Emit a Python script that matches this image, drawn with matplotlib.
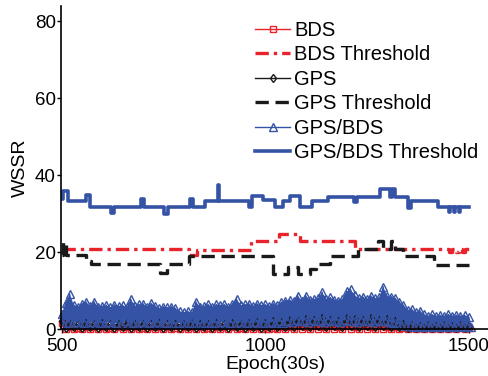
import matplotlib.pyplot as plt
import numpy as np

plt.rcParams['font.family'] = ['Liberation Sans', 'DejaVu Sans']

# GPS/BDS WSSR: upper points at 500,510,...,1500 and lower points at 505,...,1505
gb_hi = [3.8, 6.8, 9.1, 6.3, 5.8, 6.6, 7.1, 6.0, 7.1, 5.8,
         6.0, 6.2, 5.6, 6.3, 6.0, 6.2, 5.7, 7.8, 6.0, 6.4,
         6.6, 5.8, 6.7, 6.0, 5.4, 5.8, 5.6, 5.8, 5.4, 4.6,
         4.4, 4.6, 4.3, 7.1, 5.8, 6.0, 6.4, 5.8, 6.4, 6.2,
         6.4, 5.8, 6.6, 7.8, 6.2, 6.4, 6.6, 6.0, 6.6, 6.2,
         6.4, 6.0, 6.6, 6.2, 7.0, 7.4, 7.6, 7.2, 8.7, 7.4,
         8.7, 7.6, 7.8, 8.0, 9.6, 7.8, 8.2, 7.6, 7.4, 7.8,
         9.8, 10.3, 8.8, 8.0, 8.4, 7.8, 8.6, 8.0, 8.2, 11.0,
         8.6, 8.4, 8.0, 7.0, 6.2, 5.0, 5.2, 4.4, 4.8, 3.8,
         3.4, 3.8, 3.4, 3.6, 3.4, 3.8, 3.4, 3.6, 3.4, 3.6,
         3.2]
gb_lo = [1.0, 1.6, 1.4, 1.8, 1.2, 1.6, 1.4, 1.8, 1.2, 1.6,
         1.4, 1.8, 1.2, 1.6, 1.4, 2.0, 1.2, 1.6, 1.4, 1.8,
         1.2, 1.6, 1.4, 1.8, 1.2, 1.6, 1.4, 1.2, 1.6, 1.4,
         1.2, 1.6, 1.4, 1.0, 1.4, 1.6, 1.2, 1.6, 1.4, 1.8,
         1.2, 1.6, 1.4, 1.8, 1.2, 1.6, 1.4, 1.8, 1.2, 1.6,
         1.4, 1.8, 1.6, 2.0, 1.6, 2.2, 1.8, 2.4, 2.0, 2.2,
         1.8, 2.4, 2.0, 2.2, 1.8, 2.4, 2.0, 2.2, 1.8, 2.4,
         2.0, 2.2, 1.8, 2.4, 2.0, 2.2, 1.8, 2.4, 2.0, 2.2,
         1.8, 1.6, 1.2, 1.0, 0.8, 1.0, 0.6, 0.8, 0.6, 0.8,
         0.6, 0.8, 0.6, 0.8, 0.6, 0.8, 0.6, 0.8, 0.6, 0.8,
         0.6]

# GPS WSSR: upper points at 500,520,...,1500, lower at 510,...,1490
gps_hi = [2.0, 1.4, 1.2, 1.6, 1.3, 1.5, 1.2, 1.4, 1.6, 1.3,
          1.4, 1.2, 1.5, 1.3, 1.2, 1.4, 1.6, 1.3, 1.4, 1.5,
          1.3, 1.6, 1.4, 1.5, 1.7, 1.6, 2.0, 1.8, 2.4, 2.2,
          2.6, 2.3, 2.8, 2.4, 2.2, 2.8, 2.6, 2.3, 2.9, 2.4,
          2.6, 2.0, 1.4, 1.0, 0.9, 1.1, 0.8, 1.0, 0.9, 1.0,
          0.8]
gps_lo = [0.3, 0.5, 0.2, 0.4, 0.3, 0.5, 0.2, 0.4, 0.3, 0.5,
          0.2, 0.4, 0.3, 0.5, 0.2, 0.4, 0.3, 0.5, 0.2, 0.4,
          0.3, 0.5, 0.2, 0.4, 0.3, 0.5, 0.4, 0.6, 0.5, 0.7,
          0.6, 0.8, 0.5, 0.7, 0.6, 0.8, 0.5, 0.7, 0.6, 0.8,
          0.5, 0.4, 0.3, 0.2, 0.3, 0.2, 0.3, 0.2, 0.3, 0.2]

# BDS WSSR
bds_hi = [1.6, 0.5, 0.3, 0.6, 0.4, 0.5, 0.3, 0.6, 0.4, 0.5,
          0.3, 0.6, 0.4, 0.5, 0.3, 0.6, 0.4, 0.5, 0.3, 0.6,
          0.4, 0.5, 0.3, 0.6, 0.4, 0.5, 0.3, 0.6, 0.4, 0.8,
          0.6, 0.9, 0.5, 0.8, 0.6, 0.9, 0.5, 0.8, 0.6, 0.9,
          0.5, 0.4, 0.3, 0.4, 0.3, 0.4, 0.3, 0.4, 0.3, 0.4,
          0.3]
bds_lo = [0.0, 0.1, 0.0, 0.1, 0.0, 0.1, 0.0, 0.1, 0.0, 0.1,
          0.0, 0.1, 0.0, 0.1, 0.0, 0.0, 0.0, 0.0, 0.0, 0.0,
          0.0, 0.1, 0.0, 0.1, 0.0, 0.0, 0.0, 0.0, 0.0, 0.0,
          0.0, 0.0, 0.0, 0.0, 0.0, 0.0, 0.0, 0.1, 0.0, 0.0,
          0.0, 0.1, 0.0, 0.1, 0.0, 0.1, 0.0, 0.1, 0.0, 0.1]

# thresholds (step changes)
bds_thr_epochs = [500, 812, 833, 965, 1035, 1085, 1220, 1452, 1460, 1468, 1476, 1484, 1490, 1502]
bds_thr_values = [20.8, 19.2, 20.5, 22.9, 24.7, 22.9, 20.8, 20.0, 20.8, 20.0, 20.8, 20.0, 20.8, 20.8]

gps_thr_epochs = [500, 503, 510, 560, 572, 742, 760, 814, 1020, 1056, 1080, 1110, 1125, 1160,
                  1228, 1277, 1290, 1310, 1320, 1340, 1415, 1502]
gps_thr_values = [19.3, 22.5, 19.3, 17.8, 16.9, 14.5, 16.9, 19.0, 14.3, 16.1, 14.3, 15.5, 16.9, 19.0,
                  20.8, 23.0, 20.8, 23.0, 20.8, 19.0, 16.7, 16.7]

gb_thr_epochs = [500, 503, 515, 560, 570, 622, 630, 695, 702, 752, 762, 815, 822, 853, 884,
                 888, 960, 968, 995, 1024, 1044, 1061, 1086, 1115, 1154, 1218, 1225, 1282,
                 1306, 1312, 1318, 1350, 1352, 1358, 1424, 1452, 1455, 1464, 1467, 1476, 1479, 1502]
gb_thr_values = [33.8, 36.0, 33.3, 34.8, 31.7, 30.2, 31.7, 33.8, 31.7, 29.8, 31.7, 33.8, 31.7, 33.3, 37.5,
                 33.3, 31.7, 34.6, 33.5, 31.7, 33.3, 34.6, 31.7, 33.3, 34.4, 32.9, 34.4, 36.3,
                 34.4, 36.3, 34.4, 33.3, 31.5, 33.3, 31.7, 30.3, 31.7, 30.3, 31.7, 30.3, 31.7, 31.7]

red = '#e8232b'
blue = '#3553a5'
black = '#1a1a1a'


def band(ax, hi, lo, step, color, marker, ms, label):
    x_hi = 500 + step * np.arange(len(hi))
    x_lo = 500 + step / 2 + step * np.arange(len(lo))
    # solid body of the overlapping traces
    ax.fill(np.r_[x_hi, x_lo[::-1]], np.r_[hi, lo[::-1]], color=color, lw=0, clip_on=False)
    x = np.empty(len(hi) + len(lo))
    y = np.empty(len(hi) + len(lo))
    x[0::2], y[0::2] = x_hi, hi
    x[1::2], y[1::2] = x_lo, lo
    ax.plot(x, y, '-', marker=marker, color=color, lw=1.0, ms=ms, mfc='none', mew=1.0,
            clip_on=False, label=label)


fig = plt.figure(figsize=(4.89, 3.76), dpi=100)
ax = fig.add_axes([61.5 / 489, 47 / 376, 1 - 61.5 / 489, 323 / 376])

band(ax, bds_hi, bds_lo, 20, red, 's', 4.5, 'BDS')
ax.step(bds_thr_epochs, bds_thr_values, where='post', color=red, lw=2.4,
        ls=(0, (4, 1.5, 1, 1.5)), label='BDS Threshold')

band(ax, gps_hi, gps_lo, 20, black, 'd', 4.5, 'GPS')
ax.step(gps_thr_epochs, gps_thr_values, where='post', color=black, lw=2.4,
        ls=(0, (4, 2)), label='GPS Threshold')

band(ax, gb_hi, gb_lo, 10, blue, '^', 5.5, 'GPS/BDS')
ax.step(gb_thr_epochs, gb_thr_values, where='post', color=blue, lw=2.6, label='GPS/BDS Threshold')

ax.set_xlim(500, 1550)
ax.set_ylim(0, 84)
ax.set_xticks([500, 1000, 1500])
ax.set_yticks([0, 20, 40, 60, 80])
ax.tick_params(labelsize=13.5, length=3, width=1, pad=1)
ax.tick_params(axis='x', pad=3.5)
ax.spines['top'].set_visible(False)
ax.spines['right'].set_visible(False)
ax.spines['left'].set_linewidth(1.2)
ax.spines['bottom'].set_linewidth(1.2)
ax.set_xlabel('Epoch(30s)', fontsize=14, labelpad=1)
ax.set_ylabel('WSSR', fontsize=14, labelpad=4)

ax.legend(loc='upper left', bbox_to_anchor=(255 / 489, 1 - 21 / 376), bbox_transform=fig.transFigure,
          frameon=False, fontsize=14.5, numpoints=1, handlelength=1.75, handletextpad=0.2,
          labelspacing=0.27, borderpad=0, borderaxespad=0)

fig.savefig('out.png', dpi=100)
